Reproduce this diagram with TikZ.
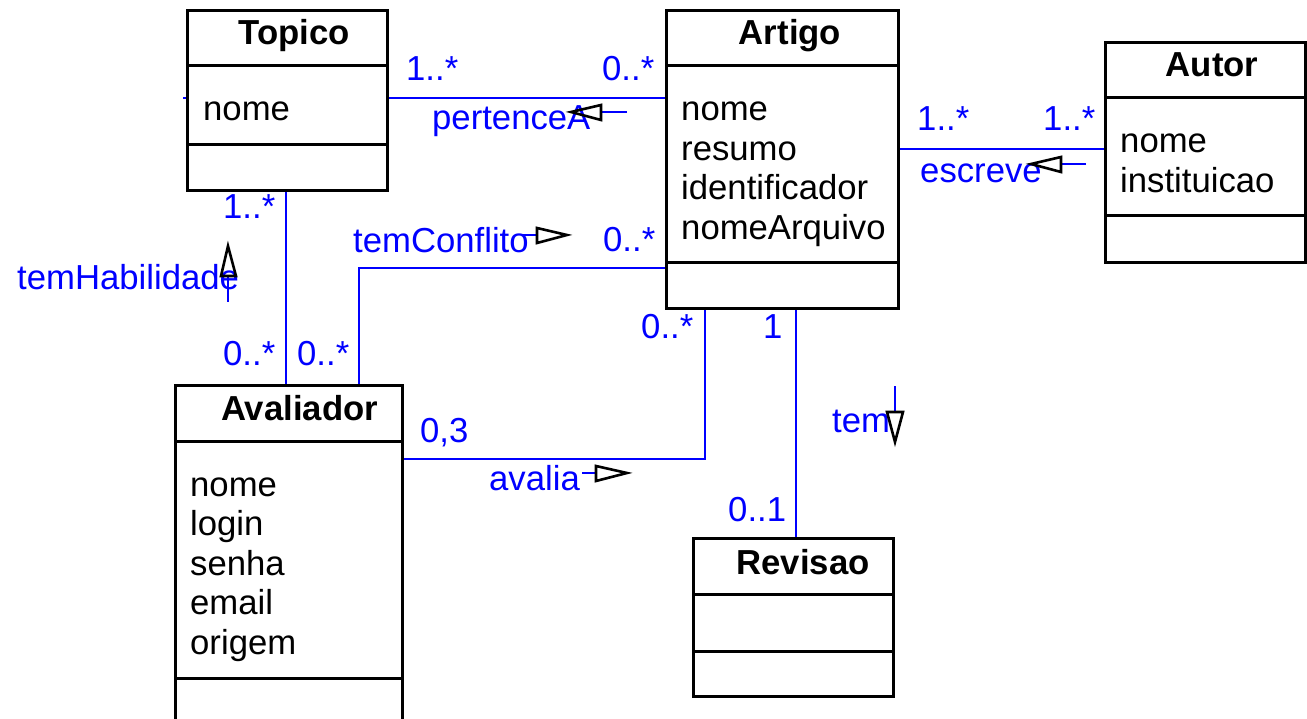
\documentclass[tikz,border=0pt]{standalone}
\usepackage{fontspec}
\setmainfont{Liberation Sans}
\newcommand\fs{\fontsize{34.7}{39.5}\selectfont}
\begin{document}
\begin{tikzpicture}[x=1pt,y=-1pt,
  box/.style={draw=black, line width=3pt, inner sep=0pt, anchor=north west},
  div/.style={draw=black, line width=3pt},
  conn/.style={draw=blue, line width=2.6pt},
  lbl/.style={text=blue, inner sep=0pt, anchor=base west, font=\fs},
  attr/.style={text=black, inner sep=0pt, anchor=base west, font=\fs},
  ttl/.style={text=black, inner sep=0pt, anchor=base, font=\fs\bfseries},
  tri/.style={draw=black, line width=2.6pt, line join=miter}]
\fill[white] (0,0) rectangle (1307,719);
\useasboundingbox (0,0) rectangle (1307,719);

% class boxes
\node[box, minimum width=200pt, minimum height=180pt] (topico) at (186,9) {};
\node[box, minimum width=232pt, minimum height=298pt] (artigo) at (665,9) {};
\node[box, minimum width=200pt, minimum height=220pt] (autor) at (1104,41) {};
\node[box, minimum width=227pt, minimum height=360pt] (avaliador) at (174,384) {};
\node[box, minimum width=200pt, minimum height=158pt] (revisao) at (692,537) {};

% dividers
\draw[div] (topico.west |- 0,66) -- (topico.east |- 0,66);
\draw[div] (topico.west |- 0,145) -- (topico.east |- 0,145);
\draw[div] (artigo.west |- 0,66) -- (artigo.east |- 0,66);
\draw[div] (artigo.west |- 0,263) -- (artigo.east |- 0,263);
\draw[div] (autor.west |- 0,98) -- (autor.east |- 0,98);
\draw[div] (autor.west |- 0,216) -- (autor.east |- 0,216);
\draw[div] (avaliador.west |- 0,441) -- (avaliador.east |- 0,441);
\draw[div] (avaliador.west |- 0,678) -- (avaliador.east |- 0,678);
\draw[div] (revisao.west |- 0,594) -- (revisao.east |- 0,594);
\draw[div] (revisao.west |- 0,651) -- (revisao.east |- 0,651);

% titles
\node[ttl] (ttopico) at (294.5,45) {Topico};
\node[ttl] (tartigo) at (790,45) {Artigo};
\node[ttl] (tautor) at (1212,77) {Autor};
\node[ttl] (tavaliador) at (299.5,420) {Avaliador};
\node[ttl] (trevisao) at (803,574) {Revisao};

% attributes
\node[attr] (a1) at (203,121) {nome};
\node[attr] (b1) at (681,121) {nome};
\node[attr] (b2) at (681,160.5) {resumo};
\node[attr] (b3) at (681,200) {identificador};
\node[attr] (b4) at (681,239.5) {nomeArquivo};
\node[attr] (c1) at (1120,153) {nome};
\node[attr] (c2) at (1120,193) {instituicao};
\node[attr] (d1) at (190,496) {nome};
\node[attr] (d2) at (190,535.5) {login};
\node[attr] (d3) at (190,575) {senha};
\node[attr] (d4) at (190,614.5) {email};
\node[attr] (d5) at (190,654) {origem};

% connectors
\draw[conn] (topico.east |- 0,98) -- (artigo.west |- 0,98);
\draw[conn] (183,98) -- (topico.west |- 0,98);
\draw[conn] (artigo.east |- 0,149) -- (autor.west |- 0,149);
\draw[conn] (topico.south -| 286,0) -- (avaliador.north -| 286,0);
\draw[conn] (artigo.west |- 0,268) -| (avaliador.north -| 359,0);
\draw[conn] (avaliador.east |- 0,459) -| (artigo.south -| 705,0);
\draw[conn] (artigo.south -| 796,0) -- (revisao.north -| 796,0);

% labels
\node[lbl] (m1) at (406,81) {1..*};
\node[lbl] (m2) at (602,81) {0..*};
\node[lbl] (lpert) at (432,130) {pertenceA};
\node[lbl] (m3) at (917,131) {1..*};
\node[lbl] (m4) at (1043,131) {1..*};
\node[lbl] (lescr) at (920,183) {escreve};
\node[lbl] (lhab) at (17,290) {temHabilidade};
\node[lbl] (m5) at (223,219) {1..*};
\node[lbl] (m6) at (223,366) {0..*};
\node[lbl] (m7) at (297,366) {0..*};
\node[lbl] (lconf) at (353,253) {temConflito};
\node[lbl] (m8) at (603,252) {0..*};
\node[lbl] (m9) at (641,338) {0..*};
\node[lbl] (m10) at (763,338) {1};
\node[lbl] (m11) at (728,521) {0..1};
\node[lbl] (ltem) at (832,432) {tem};
\node[lbl] (m12) at (420,442) {0,3};
\node[lbl] (laval) at (489,490) {avalia};

% direction arrows
\draw[conn] (627,112) -- (601,112);
\draw[tri] (601,105) -- (571,112) -- (601,120) -- cycle;
\draw[conn] (1086,164) -- (1061,164);
\draw[tri] (1061,157) -- (1031,164) -- (1061,172) -- cycle;
\draw[conn] (228,302) -- (228,276);
\draw[tri] (221,276) -- (228,246) -- (236,276) -- cycle;
\draw[conn] (522,235) -- (537,235);
\draw[tri] (537,228) -- (567,235) -- (537,243) -- cycle;
\draw[conn] (582,473) -- (596,473);
\draw[tri] (596,466) -- (627,473) -- (596,481) -- cycle;
\draw[conn] (895,386) -- (895,412);
\draw[tri] (887,412) -- (895,442) -- (903,412) -- cycle;
\end{tikzpicture}
\end{document}
